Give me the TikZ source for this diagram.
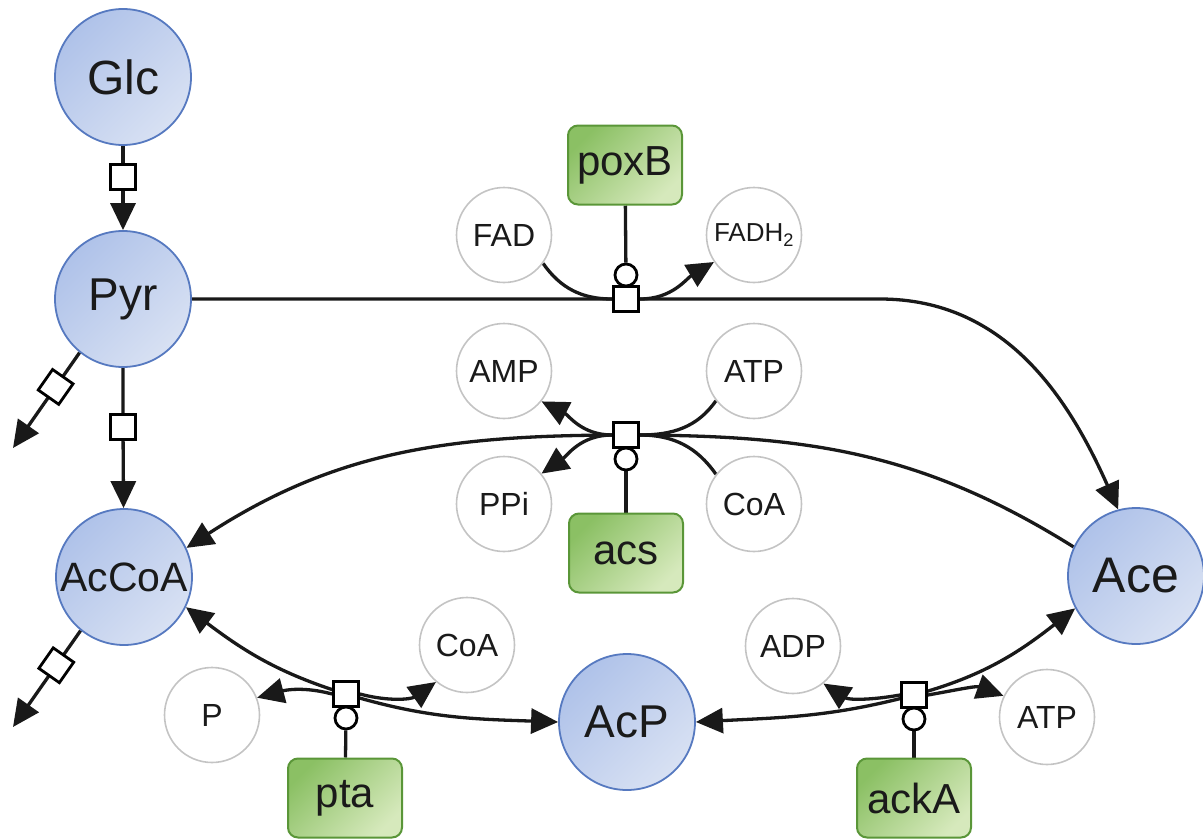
\documentclass[tikz,border=0pt]{standalone}
\usepackage{fontspec}
\setmainfont{Liberation Sans}
\usetikzlibrary{arrows.meta,calc,backgrounds}
\definecolor{metA}{HTML}{AFC2E9}
\definecolor{metB}{HTML}{D8E1F3}
\definecolor{metD}{HTML}{5679C0}
\definecolor{genA}{HTML}{8BC064}
\definecolor{genB}{HTML}{D6E9BC}
\definecolor{genD}{HTML}{5A9638}
\definecolor{cofD}{HTML}{C4C4C4}
\definecolor{txt}{HTML}{1A1A1A}
\begin{document}
\begin{tikzpicture}[x=1pt,y=1pt,
 met/.style={circle, minimum size=136pt, inner sep=0pt, draw=metD, line width=1.8pt, top color=metA, bottom color=metB, shading angle=45, font=\fontsize{46}{46}\selectfont, text=txt},
 gene/.style={rectangle, rounded corners=10pt, minimum width=114pt, minimum height=79pt, draw=genD, line width=2pt, top color=genA, bottom color=genB, shading angle=45, font=\fontsize{42}{42}\selectfont, text=txt},
 cof/.style={circle, minimum size=95pt, inner sep=0pt, draw=cofD, line width=1.6pt, fill=white, font=\fontsize{32}{32}\selectfont, text=txt},
 rx/.style={rectangle, minimum size=25pt, inner sep=0pt, draw=black, line width=2.8pt, fill=white},
 cat/.style={circle, minimum size=22pt, inner sep=0pt, draw=black, line width=2.8pt, fill=white},
 ln/.style={line width=3.3pt, draw=black!90},
 arr/.style={ln, -{Triangle[length=27pt,width=25pt]}},
 barr/.style={ln, {Triangle[length=27pt,width=25pt]}-{Triangle[length=27pt,width=25pt]}},
]
\useasboundingbox (0,0) rectangle (1203,-839);

% metabolites
\node[met, font=\fontsize{48}{48}\selectfont] (Glc) at (123,-77) {Glc};
\node[met] (Pyr) at (123,-299) {Pyr};
\node[met, font=\fontsize{41}{41}\selectfont] (AcCoA) at (124,-577) {AcCoA};
\node[met, font=\fontsize{50}{50}\selectfont] (Ace) at (1136,-576) {Ace};
\node[met] (AcP) at (627,-722) {AcP};

% enzymes
\node[gene] (poxB) at (625,-165) {poxB};
\node[gene] (acs) at (626,-553) {acs};
\node[gene] (pta) at (345,-798) {pta};
\node[gene] (ackA) at (914,-798) {ackA};

% cofactors
\node[cof] (FAD) at (504,-235) {FAD};
\node[cof, font=\fontsize{26}{26}\selectfont] (FADH2) at (754,-235) {FADH\textsubscript{2}};
\node[cof] (AMP) at (504,-371) {AMP};
\node[cof] (ATP1) at (754,-371) {ATP};
\node[cof] (PPi) at (504,-504) {PPi};
\node[cof] (CoA1) at (754,-504) {CoA};
\node[cof] (P) at (212,-715) {P};
\node[cof] (CoA2) at (467,-645) {CoA};
\node[cof] (ADP) at (793,-646) {ADP};
\node[cof] (ATP2) at (1047,-717) {ATP};

% reaction squares
\node[rx] (rglc) at (123,-177) {};
\node[rx] (rpa) at (123,-427) {};
\node[rx] (rpox) at (626,-299) {};
\node[rx] (racs) at (626,-435) {};
\node[rx] (rpta) at (346,-694) {};
\node[rx] (rack) at (914,-695) {};
\coordinate (pyrend) at (13,-448);
\coordinate (acend) at (13,-727);
\node[rx, rotate=55] (rpo) at ($(Pyr.231)!0.36!(pyrend)$) {};
\node[rx, rotate=55] (rao) at ($(AcCoA.231)!0.36!(acend)$) {};

% catalysis circles
\node[cat] (cpox) at (626,-275) {};
\node[cat] (cacs) at (626,-459) {};
\node[cat] (cpta) at (346,-718) {};
\node[cat] (cack) at (914,-719) {};

\coordinate (pbend) at (880,-299);

\begin{scope}[on background layer]
\draw[arr] (Glc) -- (rglc) -- (Pyr);
\draw[arr] (Pyr) -- (rpa) -- (AcCoA);
\draw[arr] (Pyr.231) -- (pyrend);
\draw[arr] (AcCoA.231) -- (acend);

% poxB
\draw[arr] (Pyr.east) -- (pbend) to[out=0,in=114] (Ace.105);
\draw[ln] (FAD.-36) to[out=-55,in=180] (rpox.west);
\draw[arr] (rpox.east) to[out=0,in=211] (FADH2.214);
\draw[ln] (poxB) -- (cpox) -- (rpox);

% acs
\draw[arr] (Ace.155) to[out=148,in=0] (racs.center) to[out=180,in=33] (AcCoA.25);
\draw[ln] (ATP1.218) to[out=-125,in=0] (racs.east);
\draw[ln] (CoA1.142) to[out=125,in=0] (racs.east);
\draw[arr] (racs.west) to[out=180,in=-27] (AMP.-39);
\draw[arr] (racs.west) to[out=180,in=35] (PPi.39);
\draw[ln] (acs) -- (cacs) -- (racs);

% pta
\draw[barr] (AcCoA.-26) to[out=-37,in=163] (rpta.center) to[out=-17,in=178] (AcP.west);
\draw[arr] (rpta.west) to[out=165,in=15] (P.21);
\draw[arr] (rpta.east) to[out=-15,in=215] (CoA2.230);
\draw[ln] (pta) -- (cpta) -- (rpta);

% ackA
\draw[barr] (AcP.east) to[out=3,in=195] (rack.center) to[out=15,in=218] (Ace.208);
\draw[arr] (rack.west) to[out=190,in=-33] (ADP.-51);
\draw[arr] (rack.east) to[out=10,in=160] (ATP2.154);
\draw[ln] (ackA) -- (cack) -- (rack);
\end{scope}
\end{tikzpicture}
\end{document}
